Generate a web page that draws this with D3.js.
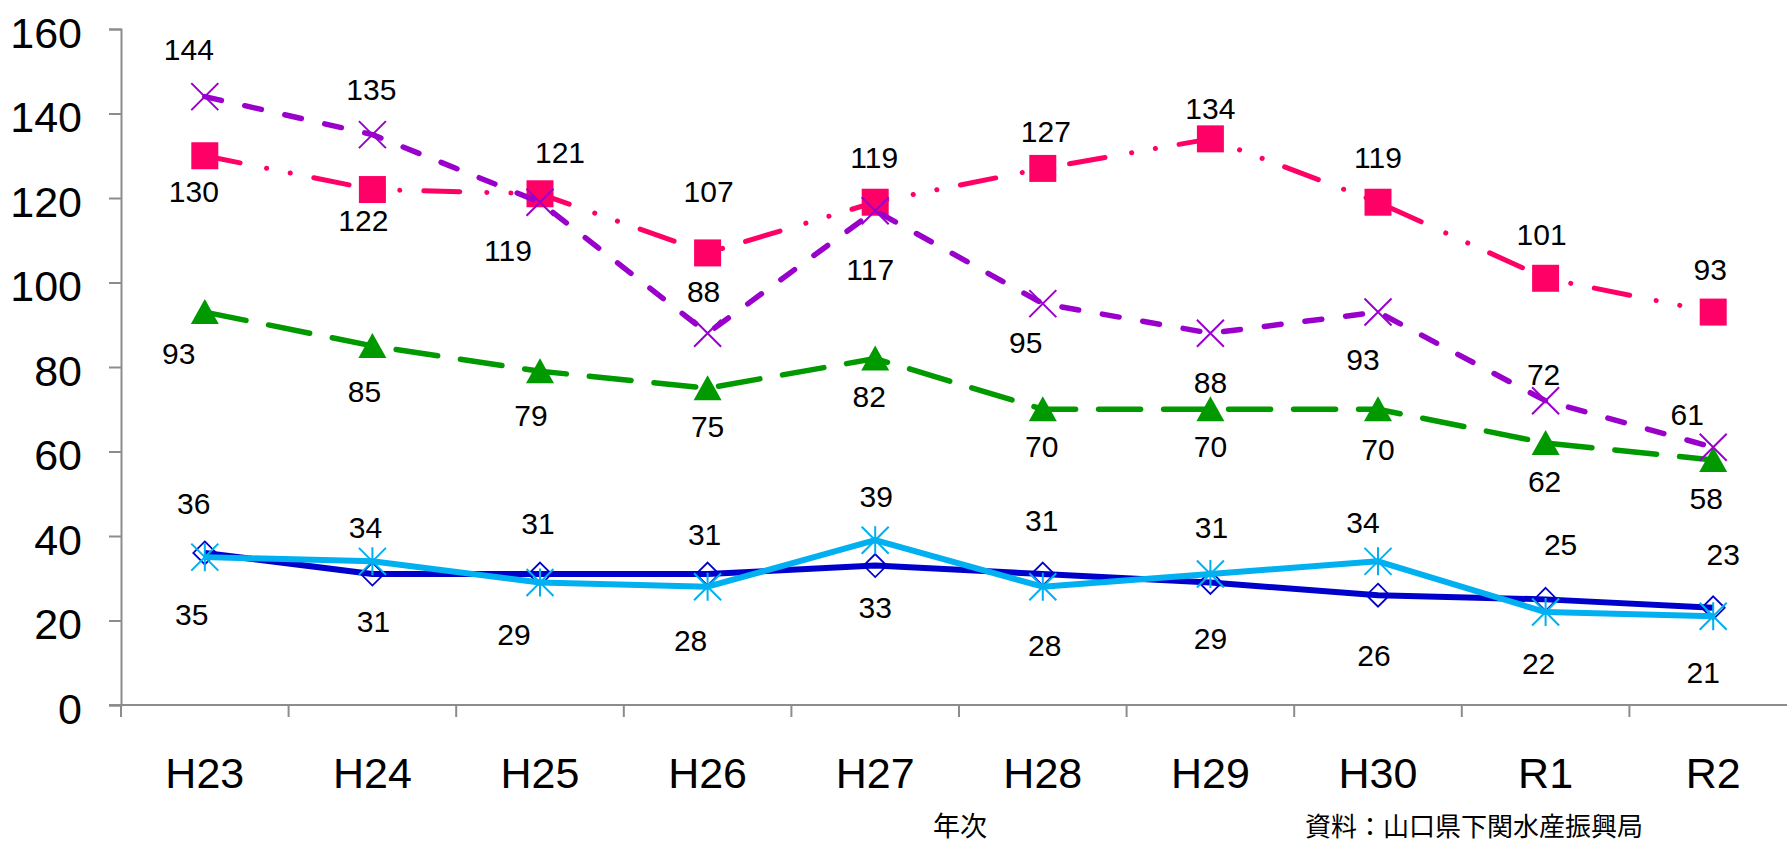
<!DOCTYPE html>
<html><head><meta charset="utf-8">
<script src="https://cdn.jsdelivr.net/npm/d3@7"></script>
<style>html,body{margin:0;padding:0;background:#fff;overflow:hidden}</style>
</head><body>
<svg id="chart" width="1787" height="845"></svg>
<script>
// ---------------- data ----------------
const categories = ["H23","H24","H25","H26","H27","H28","H29","H30","R1","R2"];
const yTickValues = [0,20,40,60,80,100,120,140,160];
const pinkValues   = [130,122,121,107,119,127,134,119,101,93];
const greenValues  = [93,85,79,75,82,70,70,70,62,58];
const purpleValues = [144,135,119,88,117,95,88,93,72,61];
const navyValues   = [36,31,31,31,33,31,29,26,25,23];
const cyanValues   = [35,34,29,28,39,28,31,34,22,21];
const xAxisTitle = "年次";
const sourceNote = "資料：山口県下関水産振興局";

// ---------------- layout (label nudges relative to each point: [dx, dy]) ----------------
const pinkLabelOff   = [[-11,35],[-9,30],[20,-42],[1,-62],[-1,-45],[3,-37],[0,-31],[0,-45],[-4,-44],[-3,-43]];
const greenLabelOff  = [[-26,41],[-8,45],[-9,44],[0,38],[-6,37],[-1,37],[0,37],[0,40],[-1,38],[-7,38]];
const purpleLabelOff = [[-16,-48],[-1,-46],[-32,48],[-4,-42],[-5,58],[-17,38],[0,49],[-15,47],[-2,-27],[-26,-33]];
const navyLabelOff   = [[-11,-50],[1,47],[-2,-51],[-3,-40],[0,41],[-1,-54],[0,56],[-4,60],[15,-55],[10,-54]];
const cyanLabelOff   = [[-13,57],[-7,-34],[-26,52],[-17,53],[1,-44],[2,58],[1,-47],[-15,-39],[-7,51],[-10,56]];

const svg = d3.select("#chart");
const plotLeft = 121, plotTop = 29, plotBottom = 705, bandW = 167.6;

const x = d3.scaleBand().domain(categories).range([plotLeft, plotLeft + bandW*categories.length]).padding(0);
const y = d3.scaleLinear().domain([0,160]).range([plotBottom, plotTop]);
const cx = c => x(c) + x.bandwidth()/2;

const axisColor = "#8c8c8c";
const numFont = "'Liberation Sans', Arial, sans-serif";
const cjkFont = "'Noto Sans CJK JP', sans-serif";

// y axis
const yAxis = svg.append("g").attr("transform", `translate(${plotLeft},0)`)
  .call(d3.axisLeft(y).tickValues(yTickValues).tickSize(12).tickPadding(27).tickFormat(d3.format("d")));
yAxis.select(".domain").attr("stroke", axisColor).attr("stroke-width", 2);
yAxis.selectAll(".tick line").attr("stroke", axisColor).attr("stroke-width", 2);
yAxis.selectAll(".tick text").attr("font-family", numFont).attr("font-size", 43).attr("fill", "#000").attr("dy", "0.42em");

// x axis line + boundary ticks
const xg = svg.append("g");
xg.append("line").attr("x1", plotLeft - 12).attr("x2", x.range()[1]).attr("y1", plotBottom).attr("y2", plotBottom)
  .attr("stroke", axisColor).attr("stroke-width", 2);
xg.selectAll("line.tk").data(categories).enter().append("line").attr("class","tk")
  .attr("x1", d => x(d)).attr("x2", d => x(d)).attr("y1", plotBottom).attr("y2", plotBottom + 12)
  .attr("stroke", axisColor).attr("stroke-width", 2);
xg.selectAll("text.cat").data(categories).enter().append("text").attr("class","cat")
  .attr("x", d => cx(d)).attr("y", plotBottom + 83).attr("text-anchor","middle")
  .attr("font-family", numFont).attr("font-size", 43).attr("fill", "#000").text(d => d);

// titles
svg.append("text").attr("x", 960).attr("y", 836).attr("text-anchor","middle")
  .attr("font-family", cjkFont).attr("font-size", 27).attr("fill","#000").text(xAxisTitle);
svg.append("text").attr("x", 1305).attr("y", 836).attr("text-anchor","start")
  .attr("font-family", cjkFont).attr("font-size", 26).attr("fill","#000").text(sourceNote);

// marker paths
const markers = {
  square: "M-13.5,-13.5H13.5V13.5H-13.5Z",
  triangle: "M0,-13L14,12H-14Z",
  cross: "M-13.5,-13.5L13.5,13.5M13.5,-13.5L-13.5,13.5",
  diamond: "M0,-11.5L11.5,0L0,11.5L-11.5,0Z",
  asterisk: "M-13.5,-13.5L13.5,13.5M13.5,-13.5L-13.5,13.5M0,-14V14"
};

const series = [
  {values: pinkValues, color:"#ff0066", width:5, dash:"36,27,0.1,24,0.1,24", cap:"round", marker:"square", fill:"#ff0066", mstroke:"none", off: pinkLabelOff},
  {values: greenValues, color:"#009900", width:5.5, dash:"42,23", cap:"round", marker:"triangle", fill:"#009900", mstroke:"none", off: greenLabelOff},
  {values: purpleValues, color:"#9900cc", width:5.5, dash:"17,24", cap:"round", marker:"cross", fill:"none", mstroke:"#9900cc", mw:2, off: purpleLabelOff},
  {values: navyValues, color:"#0000cc", width:6, dash:null, cap:"butt", marker:"diamond", fill:"none", mstroke:"#0000cc", mw:1.8, off: navyLabelOff},
  {values: cyanValues, color:"#00b0f0", width:6, dash:null, cap:"butt", marker:"asterisk", fill:"none", mstroke:"#00b0f0", mw:2, off: cyanLabelOff}
];

const line = d3.line().x((d,i) => cx(categories[i])).y(d => y(d));

series.forEach(s => {
  const g = svg.append("g");
  g.append("path").datum(s.values).attr("d", line).attr("fill","none")
    .attr("stroke", s.color).attr("stroke-width", s.width).attr("stroke-linecap", s.cap)
    .attr("stroke-linejoin","round").attr("stroke-dasharray", s.dash);
  g.selectAll("path.mk").data(s.values).enter().append("path").attr("class","mk")
    .attr("transform", (d,i) => `translate(${cx(categories[i])},${y(d)})`)
    .attr("d", markers[s.marker]).attr("fill", s.fill)
    .attr("stroke", s.mstroke).attr("stroke-width", s.mw || 0);
});

// data labels on top
series.forEach(s => {
  svg.append("g").selectAll("text").data(s.values).enter().append("text")
    .attr("x", (d,i) => cx(categories[i]) + s.off[i][0])
    .attr("y", (d,i) => y(d) + s.off[i][1] + 11)
    .attr("text-anchor","middle").attr("font-family", numFont).attr("font-size", 30)
    .attr("fill","#000").text(d => d);
});
</script>
</body></html>
